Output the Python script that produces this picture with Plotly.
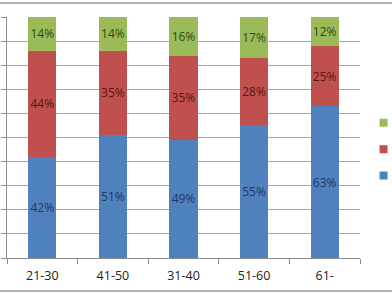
import plotly.graph_objects as go

categories = ["21-30", "41-50", "31-40", "51-60", "61-"]
blue_vals = [42, 51, 49, 55, 63]
red_vals = [44, 35, 35, 28, 25]
green_vals = [14, 14, 16, 17, 12]

series = [
    ("blue", blue_vals, "#4F81BD", "#1F3864"),
    ("red", red_vals, "#C0504D", "#5A1414"),
    ("green", green_vals, "#9BBB59", "#2E4A12"),
]

fig = go.Figure()
for name, vals, color, tcolor in series:
    fig.add_trace(go.Bar(
        x=categories, y=vals, name=name, marker=dict(color=color, line=dict(width=0)),
        text=[f"{v}%" for v in vals], textposition="inside", insidetextanchor="middle",
        textangle=0, constraintext="none",
        textfont=dict(family="Open Sans", size=12, color=tcolor),
        showlegend=False, width=0.4,
    ))

# legend markers (no visible text)
for name, vals, color, tcolor in reversed(series):
    fig.add_trace(go.Scatter(
        x=[None], y=[None], mode="markers", name=" ",
        marker=dict(symbol="square", size=8, color=color),
        showlegend=True,
    ))

fig.update_layout(
    width=392, height=294,
    margin=dict(l=7, r=32, t=17, b=36, autoexpand=False),
    barmode="stack",
    paper_bgcolor="white", plot_bgcolor="white",
    legend=dict(x=1.01, y=0.45, xanchor="left", yanchor="middle",
                font=dict(size=18), traceorder="normal",
                bgcolor="rgba(0,0,0,0)", itemwidth=30),
    xaxis=dict(showline=True, linecolor="#8c8c8c", ticks="outside", ticklen=5,
               tickcolor="#8c8c8c", tickson="boundaries", ticklabelstandoff=6,
               tickfont=dict(family="Open Sans", size=12.5, color="#222222"),
               showgrid=False),
    yaxis=dict(range=[0, 100], dtick=10, showticklabels=False, showline=True,
               linecolor="#8c8c8c", ticks="outside", ticklen=5, tickcolor="#8c8c8c",
               showgrid=True, gridcolor="#a6a6a6", gridwidth=1, zeroline=False),
    shapes=[
        dict(type="line", xref="paper", yref="paper", x0=-0.1, x1=1.2, y0=1.058, y1=1.058,
             line=dict(color="#9a9a9a", width=1.5)),
        dict(type="line", xref="paper", yref="paper", x0=-0.1, x1=1.2, y0=-0.137, y1=-0.137,
             line=dict(color="#9a9a9a", width=1.5)),
    ],
)

fig.write_html("out.html")
